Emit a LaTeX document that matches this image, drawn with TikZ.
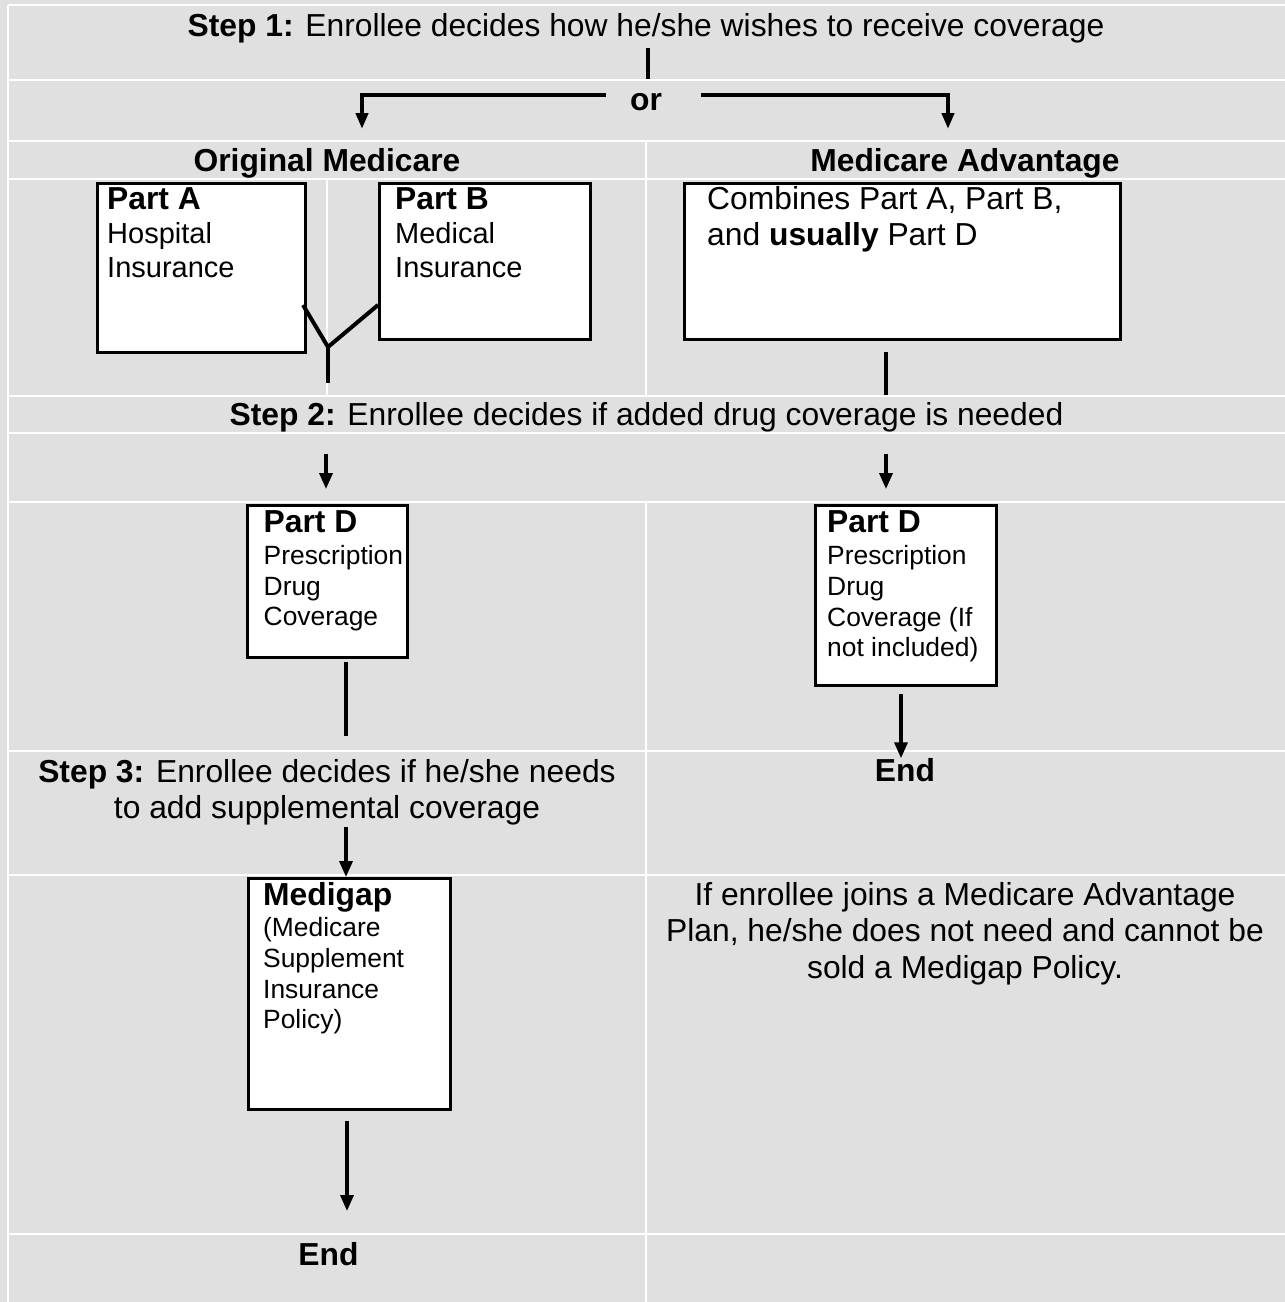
\documentclass[tikz,border=0pt]{standalone}
\usepackage{fontspec}
\setmainfont{Liberation Sans}
\usetikzlibrary{arrows.meta}
\definecolor{bg}{HTML}{E0E0E0}
\begin{document}
\begin{tikzpicture}[x=1pt,y=-1pt,
  gridline/.style={white,line width=2.5pt},
  box/.style={draw=black,fill=white,line width=3pt,inner sep=0pt,anchor=north west},
  conn/.style={line width=4pt},
  arr/.style={line width=3.5pt,-{Triangle[width=13pt,length=16pt]}},
  tc/.style={inner sep=0pt,anchor=base},
  tl/.style={inner sep=0pt,anchor=base west},
  fbig/.style={font=\fontsize{31.8}{36}\selectfont},
  fmid/.style={font=\fontsize{29}{34}\selectfont},
  fsml/.style={font=\fontsize{26.4}{31}\selectfont}]
\useasboundingbox (0,0) rectangle (1285,1302);
\fill[bg] (0,0) rectangle (1285,1302);
% table grid
\foreach \yy in {5,80,141,179,396,433,502,751,875,1234}
  \draw[gridline] (8,\yy) -- (1285,\yy);
\draw[gridline] (8,5) -- (8,1302);
\draw[gridline] (646,141) -- (646,396);
\draw[gridline] (646,502) -- (646,1302);
\draw[gridline] (327,179) -- (327,396);

% boxes
\node[box,minimum width=208pt,minimum height=169pt] (pa) at (96,182) {};
\node[box,minimum width=211pt,minimum height=156pt] (pb) at (378,182) {};
\node[box,minimum width=436pt,minimum height=156pt] (ma) at (683,182) {};
\node[box,minimum width=160pt,minimum height=152pt] (pdl) at (246,504) {};
\node[box,minimum width=181pt,minimum height=180pt] (pdr) at (814,504) {};
\node[box,minimum width=202pt,minimum height=231pt] (mg) at (247,877) {};

% texts
\node[tc,fbig] (s1) at (646,36) {\textbf{Step 1:} Enrollee decides how he/she wishes to receive coverage};
\node[tc,fbig] (or) at (646,110) {\textbf{or}};
\node[tc,fbig] (omh) at (327,171) {\textbf{Original Medicare}};
\node[tc,fbig] (mah) at (965,171) {\textbf{Medicare Advantage}};

\node[tl,fbig] (paT) at (107,209) {\textbf{Part A}};
\node[tl,fmid] (pa1) at (107,243) {Hospital};
\node[tl,fmid] (pa2) at (107,277) {Insurance};

\node[tl,fbig] (pbT) at (395,209) {\textbf{Part B}};
\node[tl,fmid] (pb1) at (395,243) {Medical};
\node[tl,fmid] (pb2) at (395,277) {Insurance};

\node[tl,fbig] (ma1) at (707,209) {Combines Part A, Part B,};
\node[tl,fbig] (ma2) at (707,245.5) {and \textbf{usually} Part D};

\node[tc,fbig] (s2) at (646.5,425) {\textbf{Step 2:} Enrollee decides if added drug coverage is needed};

\node[tl,fbig] (pdlT) at (263.5,532.5) {\textbf{Part D}};
\node[tl,fsml] (pdl1) at (263.5,564) {Prescription};
\node[tl,fsml] (pdl2) at (263.5,595) {Drug};
\node[tl,fsml] (pdl3) at (263.5,625) {Coverage};

\node[tl,fbig] (pdrT) at (827,532) {\textbf{Part D}};
\node[tl,fsml] (pdr1) at (827,564) {Prescription};
\node[tl,fsml] (pdr2) at (827,595.5) {Drug};
\node[tl,fsml] (pdr3) at (827,626.5) {Coverage (If};
\node[tl,fsml] (pdr4) at (827,656) {not included)};

\node[tc,fbig] (s3a) at (327,782.5) {\textbf{Step 3:} Enrollee decides if he/she needs};
\node[tc,fbig] (s3b) at (327,818) {to add supplemental coverage};

\node[tc,fbig] (endr) at (905,781.5) {\textbf{End}};

\node[tl,fbig] (mgT) at (263,905) {\textbf{Medigap}};
\node[tl,fsml] (mg1) at (263,936.5) {(Medicare};
\node[tl,fsml] (mg2) at (263,967) {Supplement};
\node[tl,fsml] (mg3) at (263,998) {Insurance};
\node[tl,fsml] (mg4) at (263,1028) {Policy)};

\node[tc,fbig] (nt1) at (965,905) {If enrollee joins a Medicare Advantage};
\node[tc,fbig] (nt2) at (965,941.5) {Plan, he/she does not need and cannot be};
\node[tc,fbig] (nt3) at (965,978) {sold a Medigap Policy.};

\node[tc,fbig] (endl) at (328.5,1265) {\textbf{End}};

% connector end points
\coordinate (s1d) at (648,48);
\coordinate (s1j) at (648,79);
\coordinate (orL) at (606,95);
\coordinate (orLc) at (362,95);
\coordinate (orLe) at (362,129);
\coordinate (orR) at (701,95);
\coordinate (orRc) at (948,95);
\coordinate (orRe) at (948,129);
\coordinate (ya) at (303,305);
\coordinate (yb) at (378,305);
\coordinate (yj) at (328,347);
\coordinate (ye) at (328,383);
\coordinate (mad) at (886,352);
\coordinate (mae) at (886,395);
\coordinate (a2ls) at (326,454);
\coordinate (a2le) at (326,489);
\coordinate (a2rs) at (886,454);
\coordinate (a2re) at (886,489);
\coordinate (pdld) at (346,662);
\coordinate (pdle) at (346,736);
\coordinate (s3d) at (346,827);
\coordinate (pdrd) at (901,694);
\coordinate (mgd) at (347,1121);
\coordinate (mge) at (347,1211);

% connectors
\draw[conn] (s1d) -- (s1j);
\draw[conn,-{Triangle[width=12pt,length=16pt]}] (orL) -- (orLc) -- (orLe);
\draw[conn,-{Triangle[width=12pt,length=16pt]}] (orR) -- (orRc) -- (orRe);
\draw[conn] (ya) -- (yj) -- (yb);
\draw[conn] (yj) -- (ye);
\draw[conn] (mad) -- (mae);
\draw[arr] (a2ls) -- (a2le);
\draw[arr] (a2rs) -- (a2re);
\draw[conn] (pdld) -- (pdle);
\draw[arr] (s3d) -- (s3d |- mg.north);
\draw[arr] (pdrd) -- (pdrd |- endr.north);
\draw[arr] (mgd) -- (mge);
\end{tikzpicture}
\end{document}
